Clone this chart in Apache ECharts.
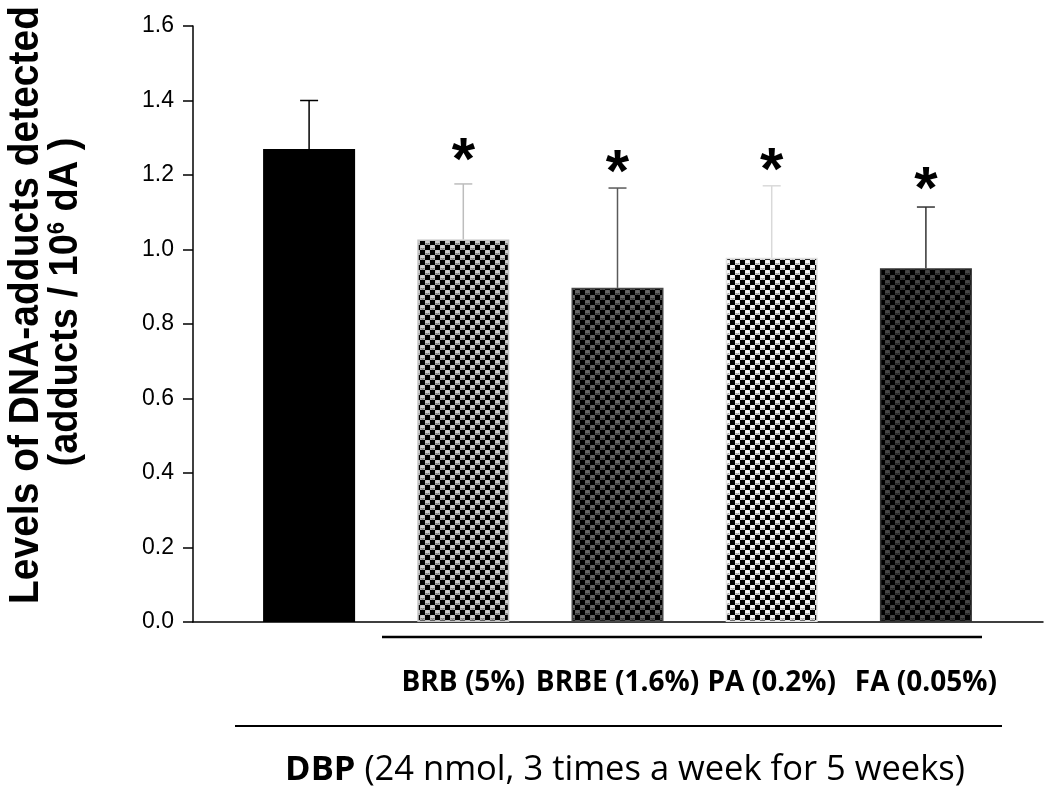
<!DOCTYPE html>
<html>
<head>
<meta charset="utf-8">
<script src="https://cdn.jsdelivr.net/npm/echarts@6/dist/echarts.min.js"></script>
<style>
html,body{margin:0;padding:0;background:#fff;}
#chart{width:1050px;height:792px;}
</style>
</head>
<body>
<div id="chart"></div>
<script>
// ---- data ----
const categories = ['', 'BRB (5%)', 'BRBE (1.6%)', 'PA (0.2%)', 'FA (0.05%)'];
const means = [1.27, 1.027, 0.897, 0.978, 0.950];
const errorTop = [1.40, 1.176, 1.165, 1.171, 1.114];
const significant = [false, true, true, true, true];
const starLevel = [null, 1.265, 1.235, 1.238, 1.187];

// ---- styles ----
function makePattern(base, circle, arc) {
  const s = 10, h = 5;
  const c = document.createElement('canvas');
  c.width = s; c.height = s;
  const g = c.getContext('2d');
  g.fillStyle = base; g.fillRect(0, 0, s, s);
  g.fillStyle = '#000';
  g.fillRect(0, 0, h, h);
  g.fillRect(h, h, h, h);
  [[7.5, 2.5], [2.5, 7.5]].forEach(function (p) {
    g.beginPath(); g.arc(p[0], p[1], 2.4, 0, Math.PI * 2);
    g.fillStyle = circle; g.fill();
    g.beginPath(); g.arc(p[0], p[1], 1.7, 0.1 * Math.PI, 0.9 * Math.PI);
    g.strokeStyle = arc; g.lineWidth = 1; g.stroke();
  });
  return { image: c, repeat: 'repeat' };
}
const fills = [
  '#000000',
  makePattern('#a8a8a8', '#cfcfcf', '#5a5a5a'),
  makePattern('#505050', '#676767', '#222222'),
  makePattern('#d6d6d6', '#f8f8f8', '#808080'),
  makePattern('#343434', '#474747', '#161616')
];
const borders = ['#000000', '#c4c4c4', '#474747', '#e2e2e2', '#333333'];
const errColors = ['#000000', '#bdbdbd', '#5a5a5a', '#d9d9d9', '#333333'];

const chart = echarts.init(document.getElementById('chart'), null, { renderer: 'canvas' });

const barData = means.map(function (v, i) {
  return { value: v, itemStyle: { color: fills[i], borderColor: borders[i], borderWidth: 1.5 } };
});
const errData = means.map(function (v, i) { return [i, v, errorTop[i]]; });

const option = {
  backgroundColor: '#fff',
  animation: false,
  grid: [
    { left: 193, right: 7, top: 26, bottom: 170 },
    { left: 232, right: 47, top: 26, bottom: 170 }
  ],
  xAxis: [
    { gridIndex: 0, type: 'value', min: 0, max: 1,
      axisLine: { show: true, lineStyle: { color: '#000', width: 1.5 } },
      axisTick: { show: false }, axisLabel: { show: false }, splitLine: { show: false } },
    { gridIndex: 1, type: 'category', data: categories,
      axisLine: { show: false }, axisTick: { show: false }, splitLine: { show: false },
      axisLabel: { margin: 47, color: '#000', fontFamily: 'Open Sans', fontWeight: 'bold', fontSize: 28, interval: 0 } }
  ],
  yAxis: [
    { gridIndex: 0, type: 'value', min: 0, max: 1.6, interval: 0.2,
      axisLine: { show: true, lineStyle: { color: '#000', width: 1.5 } },
      axisTick: { show: true, length: 10, lineStyle: { color: '#000', width: 1.5 } },
      axisLabel: { margin: 19, color: '#000', fontFamily: 'Liberation Sans', fontSize: 23,
        formatter: function (v) { return v.toFixed(1); } },
      splitLine: { show: false } },
    { gridIndex: 1, type: 'value', min: 0, max: 1.6, show: false, splitLine: { show: false } }
  ],
  series: [
    { type: 'bar', xAxisIndex: 1, yAxisIndex: 1, data: barData, barWidth: 92, z: 3 },
    { type: 'custom', xAxisIndex: 1, yAxisIndex: 1, data: errData, z: 4,
      renderItem: function (params, api) {
        const i = api.value(0);
        const b = api.coord([i, api.value(1)]);
        const t = api.coord([i, api.value(2)]);
        const st = { stroke: errColors[i], lineWidth: 1.5 };
        const children = [
          { type: 'line', shape: { x1: b[0], y1: b[1], x2: t[0], y2: t[1] }, style: st },
          { type: 'line', shape: { x1: t[0] - 9, y1: t[1], x2: t[0] + 9, y2: t[1] }, style: st }
        ];
        if (significant[i]) {
          const s = api.coord([i, starLevel[i]]);
          children.push({ type: 'text', x: s[0], y: s[1] + 12,
            style: { text: '*', fill: '#000', font: 'bold 60px "Liberation Sans"', align: 'center', verticalAlign: 'middle' } });
        }
        return { type: 'group', children: children };
      } }
  ],
  graphic: [
    { type: 'text', x: 26, y: 305, rotation: Math.PI / 2, scaleY: 1.08,
      style: { text: 'Levels of DNA-adducts detected', fill: '#000', font: 'bold 39px "Liberation Sans"', align: 'center', verticalAlign: 'middle' } },
    { type: 'text', x: 66, y: 302, rotation: Math.PI / 2, scaleY: 1.08,
      style: { text: '{a|(adducts / 10}{s|6}{a| dA )}', fill: '#000', align: 'center', verticalAlign: 'middle',
        rich: { a: { font: 'bold 38px "Liberation Sans"', fill: '#000' },
                s: { font: 'bold 22px "Liberation Sans"', fill: '#000', verticalAlign: 'top', padding: [0, 0, 14, 0] } } } },
    { type: 'line', shape: { x1: 382, y1: 637, x2: 982, y2: 637 }, style: { stroke: '#000', lineWidth: 2.5 } },
    { type: 'line', shape: { x1: 235, y1: 726, x2: 1002, y2: 726 }, style: { stroke: '#000', lineWidth: 2 } },
    { type: 'text', x: 625, y: 770,
      style: { text: '{b|DBP}{n| (24 nmol, 3 times a week for 5 weeks)}', align: 'center', verticalAlign: 'middle',
        rich: { b: { font: 'bold 34.5px "Open Sans"', fill: '#000' }, n: { font: '34.5px "Open Sans"', fill: '#000' } } } }
  ]
};
chart.setOption(option);
</script>
</body>
</html>
